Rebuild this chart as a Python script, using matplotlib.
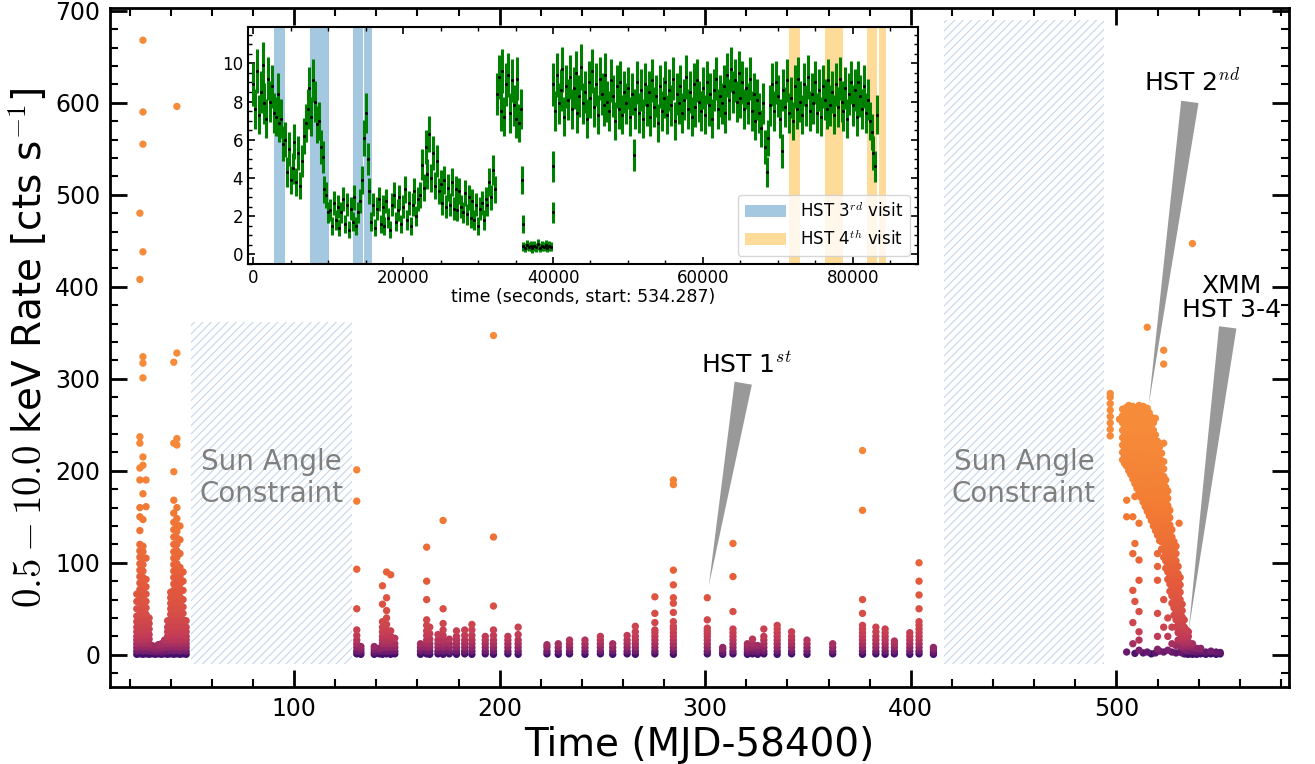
import matplotlib
matplotlib.use('Agg')
import matplotlib.pyplot as plt
from matplotlib.colors import LinearSegmentedColormap, LogNorm
from matplotlib.ticker import MultipleLocator
import numpy as np

plt.rcParams['mathtext.fontset'] = 'cm'
plt.rcParams['hatch.linewidth'] = 0.8

# Swift/XRT: cada instantanea = (MJD-58400, tasas en cts/s)
early_mjd = [23.5, 25.0, 26.5, 28.0, 29.5, 31.0, 32.5, 34.0, 35.5, 37.0,
             38.5, 40.0, 41.5, 43.0, 44.5, 46.0, 47.5]
early_rates = [
    [0.5, 4, 8, 12, 16, 20, 25, 30, 36, 42, 50, 58, 66],
    [1, 5, 9, 13, 17, 22, 27, 32, 38, 44, 50, 57, 64, 71, 78, 85, 92, 99, 106,
     113, 120, 135, 150, 160, 190, 203, 230, 237, 408, 480],
    [0.5, 4, 8, 12, 16, 21, 26, 31, 37, 43, 49, 56, 63, 70, 77, 84, 91, 98, 105,
     112, 118, 147, 175, 206, 215, 301, 317, 324, 438, 555, 590, 668],
    [1, 5, 9, 13, 17, 22, 27, 32, 38, 44, 51, 58, 66, 74, 82, 105, 161, 190],
    [0.5, 4, 8, 12, 17, 22, 28, 34, 40],
    [1, 4, 7, 10],
    [0.5, 3, 6, 9],
    [1, 4, 7, 11],
    [0.5, 3, 6, 9, 12],
    [1, 4, 8, 12, 16],
    [0.5, 4, 8, 12, 16, 20, 25, 30, 37],
    [1, 5, 9, 13, 17, 22, 27, 32, 38, 44, 50, 56, 62, 68],
    [0.5, 4, 8, 12, 16, 21, 26, 31, 37, 43, 49, 56, 63, 70, 77, 84, 91, 98, 105,
     112, 120, 128, 136, 144, 154, 168, 199, 230, 318],
    [1, 5, 9, 13, 17, 22, 27, 32, 38, 44, 50, 57, 64, 71, 78, 85, 92, 99, 106,
     113, 120, 127, 134, 141, 148, 160, 228, 235, 328, 596],
    [0.5, 4, 8, 12, 16, 21, 26, 31, 37, 43, 49, 56, 63, 70, 77, 85, 95, 110, 125, 140],
    [1, 5, 9, 13, 17, 22, 27, 32, 38, 45, 52, 60, 70, 80, 90],
    [0.5, 4, 8, 12, 16, 20, 25, 30, 37],
]

mid_mjd = [130.5, 132.5, 139.0, 141.5, 143.0, 145.0, 147.0, 149.0, 161.5, 164.5,
           166.0, 170.0, 172.5, 175.5, 179.0, 183.0, 186.5, 193.0, 197.0, 204.0,
           209.0, 223.0, 228.5, 234.0, 241.5, 249.0, 255.0, 262.0, 266.0, 275.5,
           284.5, 301.0, 308.5, 313.5, 320.5, 323.0, 325.5, 328.5, 335.0, 342.0,
           349.5, 362.0, 376.5, 383.0, 387.5, 392.0, 399.5, 404.0, 411.0]
mid_rates = [
    [1, 4, 8, 12, 16, 21, 27, 50, 93, 167, 201],
    [0.5, 3, 6, 9],
    [0.5, 3, 6, 9],
    [1, 4, 7],
    [0.5, 4, 8, 12, 16, 20, 25, 30, 36, 55, 75],
    [1, 4, 8, 12, 16, 21, 27, 33, 40, 48, 62, 90],
    [0.5, 4, 8, 12, 16, 20, 26, 87],
    [1, 4, 8, 12, 18],
    [0.5, 4, 8, 12],
    [1, 4, 8, 12, 16, 21, 26, 32, 38, 60, 80, 117],
    [0.5, 4, 8, 12, 17, 23, 30],
    [1, 4, 8, 12, 16, 22],
    [0.5, 4, 8, 12, 16, 21, 27, 34, 50, 146],
    [1, 4, 8, 12, 17],
    [0.5, 4, 8, 12, 16, 20, 26],
    [1, 4, 8, 12, 16, 21, 27],
    [0.5, 4, 8, 12, 16, 21, 27, 33],
    [1, 4, 8, 12, 16, 20],
    [0.5, 4, 8, 12, 16, 21, 27, 53, 128, 347],
    [1, 4, 8, 12, 16, 20],
    [0.5, 4, 8, 12, 16, 22, 30],
    [1, 4, 8, 11],
    [0.5, 4, 8, 12],
    [1, 4, 8, 12, 16],
    [0.5, 4, 8, 12, 16],
    [1, 4, 8, 12, 16, 20],
    [0.5, 4, 8, 12],
    [1, 4, 8, 12, 16, 21],
    [0.5, 4, 8, 12, 16, 20, 25, 31],
    [1, 4, 8, 12, 16, 20, 24, 27, 35, 45, 63],
    [0.5, 4, 8, 12, 16, 20, 24, 28, 31, 36, 46, 56, 62, 76, 92, 185, 190],
    [1, 4, 8, 12, 16, 20, 23, 26, 29, 38, 62],
    [0.5, 3, 6, 8],
    [1, 4, 8, 12, 16, 20, 24, 28, 47, 85, 121],
    [0.5, 3, 6, 9, 12],
    [1, 4, 8, 12, 17],
    [0.5, 3, 6, 10],
    [1, 4, 8, 12, 16, 20, 28],
    [0.5, 4, 8, 12, 16, 20, 24, 28, 32],
    [1, 4, 8, 12, 16, 20, 25],
    [0.5, 4, 8, 12, 16],
    [1, 4, 8, 12],
    [0.5, 4, 8, 12, 16, 20, 24, 28, 32, 45, 60, 157, 222],
    [1, 4, 8, 12, 16, 20, 25, 30],
    [0.5, 4, 8, 12, 16, 20, 24, 28],
    [1, 4, 8, 12, 15],
    [0.5, 4, 8, 12, 16, 20, 24],
    [1, 4, 8, 12, 16, 20, 24, 28, 32, 36, 50, 65, 80, 100],
    [0.5, 3, 6, 8],
]

late_mjd = [497.0, 501.5, 503.0, 504.0, 505.0, 506.0, 507.0, 508.0, 509.0, 510.0,
            511.0, 512.0, 513.0, 514.0, 515.0, 516.0, 517.0, 518.0, 519.0, 520.0,
            521.0, 522.0, 523.0, 524.0, 525.0, 526.0, 527.0, 528.0, 529.0, 530.0,
            530.5, 531.0, 532.0, 533.0, 534.0, 535.0, 537.0, 539.0, 541.0, 543.5,
            546.0, 548.5, 550.5]
late_rates = [
    [238, 245, 252, 259, 266, 273, 280, 284],
    [256],
    [212, 220, 228, 236, 244, 252, 260, 267],
    [208, 216, 224, 232, 240, 248, 256, 264],
    [205, 213, 221, 229, 237, 245, 253, 261, 269, 150, 168, 3],
    [200, 208, 216, 224, 232, 240, 248, 256, 264, 271],
    [196, 204, 212, 220, 228, 236, 244, 252, 260, 268],
    [191, 199, 207, 215, 223, 231, 239, 247, 255, 263, 270, 150, 110, 70, 35, 12],
    [186, 194, 202, 210, 218, 226, 234, 242, 250, 258, 266, 172, 121, 58, 1.5],
    [181, 189, 197, 205, 213, 221, 229, 237, 245, 253, 261, 268],
    [176, 184, 192, 200, 208, 216, 224, 232, 240, 248, 256, 264, 271, 143, 103,
     81, 47, 25, 16, 5],
    [171, 179, 187, 195, 203, 211, 219, 227, 235, 243, 251, 259, 267],
    [166, 174, 182, 190, 198, 206, 214, 222, 230, 238, 246, 254, 262, 270, 2],
    [161, 169, 177, 185, 193, 201, 209, 217, 225, 233, 241, 249, 257, 265],
    [156, 164, 172, 180, 188, 196, 204, 212, 220, 228, 236, 244, 252, 260, 268, 356, 3],
    [151, 159, 167, 175, 183, 191, 199, 207, 215, 223, 231, 239, 247, 255, 263],
    [146, 154, 162, 170, 178, 186, 194, 202, 210, 218, 226, 234, 242, 250, 258, 1],
    [140, 148, 156, 164, 172, 180, 188, 196, 204, 212, 220, 228, 236, 244, 252],
    [135, 143, 151, 159, 167, 175, 183, 191, 199, 207, 215, 223, 231, 239, 257, 2],
    [130, 138, 146, 154, 162, 170, 178, 186, 194, 202, 210, 218, 226, 232,
     132, 110, 96, 81, 45, 20, 6],
    [124, 132, 140, 148, 156, 164, 172, 180, 188, 196, 204, 212, 220, 226, 4],
    [115, 123, 131, 139, 147, 155, 163, 171, 179, 187, 195, 203, 211, 219],
    [106, 114, 122, 130, 138, 146, 154, 162, 170, 178, 186, 194, 202, 210, 230,
     316, 331, 60, 30, 3],
    [94, 102, 110, 118, 126, 134, 142, 150, 158, 166, 174, 182, 190],
    [82, 90, 98, 106, 114, 122, 130, 138, 146, 154, 162, 170, 178, 40, 20, 5],
    [69, 77, 85, 93, 101, 109, 117, 125, 133, 141, 149, 157],
    [56, 64, 72, 80, 88, 96, 104, 112, 120, 128, 136, 30, 12, 3],
    [43, 51, 59, 67, 75, 83, 91, 99, 107, 115, 123],
    [30, 38, 46, 54, 62, 70, 78, 86, 94, 102, 110, 118, 10, 2],
    [16, 24, 32, 40, 48, 56, 64, 72, 80, 88, 96],
    [143],
    [3, 10, 17, 24, 31, 38, 45, 52, 60, 68, 76, 84],
    [2, 8, 14, 20, 27, 34, 41, 48, 55],
    [1, 6, 12, 18, 24, 30, 38],
    [1, 5, 10, 15, 21, 27],
    [0.5, 4, 9, 14, 20, 25],
    [0.5, 4, 8, 12, 447],
    [0.5, 3, 7],
    [1, 4, 7],
    [0.5, 3],
    [1, 4],
    [0.5, 3],
    [1, 2.5],
]

# zonas sin observacion (restriccion de angulo solar)
sun_start = [50, 416]
sun_end = [128, 494]
sun_top = [362, 690]
sun_bottom = -10

# curva de luz XMM (inset), bines de 250 s
lc_bin = 250
lc_start = [0, 36000, 40000]
lc_rate_a = [8.9, 7.6, 9.6, 7.3, 8.5, 9.9, 7.9, 7.1, 9.2, 8.0, 8.8, 7.4,
             7.2, 8.4, 6.9,
             7.1, 5.8, 6.0, 4.3, 5.5, 3.9,
             4.5, 5.9, 3.8, 5.3, 3.6, 4.9, 6.2, 6.9,
             7.6, 8.7, 7.2, 9.1, 8.0, 6.8, 7.0,
             5.6, 5.1, 3.4, 3.1, 2.2,
             2.3, 1.5, 2.7, 1.8, 2.5, 1.4, 2.2, 2.9, 1.6, 2.6, 1.3, 2.4, 1.7, 3.0,
             1.5, 2.2, 2.8, 3.9, 6.1,
             7.4, 5.0, 3.3,
             1.7, 2.6, 1.4, 2.4, 2.9, 1.6, 2.5, 1.5, 2.8, 1.9, 1.3, 2.6, 3.1, 1.7,
             2.3, 3.0, 1.6, 2.5, 3.4, 1.8, 2.7, 1.5, 2.6, 3.3, 2.0, 2.9,
             3.1, 4.7, 3.5, 5.6, 4.2, 6.3, 4.0, 5.3, 3.6, 4.9, 3.3,
             3.7, 2.7, 3.9, 2.5, 3.5, 2.6, 3.8, 2.4, 3.4, 2.3, 3.3, 2.5, 2.2, 3.2,
             2.1, 3.0, 1.9, 2.8,
             1.8, 2.6, 1.5, 2.4, 2.7, 1.8, 2.9,
             2.6, 3.8, 3.0, 4.4, 3.4,
             8.4, 9.3, 7.5, 9.6, 7.2, 8.9, 9.4, 7.4, 9.1, 7.8, 7.1, 9.2, 6.9, 7.6]
lc_rate_b = [0.42, 0.35, 0.48, 0.39, 0.44, 0.31, 0.46, 0.38, 0.52, 0.36, 0.43,
             0.40, 0.49, 0.33, 0.45, 0.41]
lc_rate_c = [8.9, 7.5, 9.4, 7.9, 8.6, 9.7, 7.2, 8.8, 8.1, 9.3,
             7.6, 8.7, 9.5, 7.4, 8.3, 9.8, 7.9, 8.5, 7.1, 9.0,
             8.2, 9.6, 7.7, 8.9, 7.3, 9.2, 8.4, 7.8, 9.4, 8.0,
             7.5, 9.1, 8.3, 7.0, 8.8, 7.6, 9.0, 7.3, 8.5, 7.9,
             8.7, 7.2, 8.4, 5.2, 7.6, 9.0, 7.4, 8.6, 7.1, 8.9,
             7.8, 8.5, 7.2, 9.1, 7.7, 8.3, 6.9, 8.8, 7.5, 8.2,
             9.0, 7.3, 8.6, 7.8, 9.2, 7.0, 8.4, 7.9, 8.8, 7.4,
             8.1, 9.3, 7.6, 8.5, 7.2, 8.9, 7.7, 9.1, 8.0, 7.5,
             8.7, 7.3, 9.0, 7.8, 8.4, 7.1, 8.6, 9.2, 7.6, 8.3,
             7.9, 8.8, 7.4, 9.4, 8.1, 9.7, 8.5, 9.1, 8.0, 9.5,
             8.2, 9.0, 7.6, 8.7, 7.9, 9.2, 7.5, 8.4, 7.0, 8.1,
             7.4, 6.6, 7.9, 5.6, 4.3, 6.1, 7.8, 8.9, 7.5, 9.0,
             8.3, 7.1, 5.4, 8.6, 7.7, 9.1, 7.4, 8.2, 7.0, 8.8,
             7.6, 9.2, 8.0, 7.3, 8.9, 7.8, 9.3, 7.5, 8.4, 7.9,
             9.0, 7.4, 8.6, 7.2, 8.8, 8.1, 7.6, 9.1, 7.8, 8.5,
             7.3, 8.9, 7.7, 9.2, 8.0, 7.5, 8.7, 7.1, 8.4, 9.0,
             7.8, 8.6, 7.2, 9.0, 8.3, 7.6, 8.8, 7.4, 8.1, 7.0,
             6.4, 5.3, 4.6, 7.3]
lc_odd_t = [35900, 35950, 40000, 40050]
lc_odd_rate = [3.9, 1.6, 4.6, 2.2]
poisson_bin = 7  # s, para las barras de error

hst3_start = [2780, 7510, 13270, 14780]
hst3_end = [4200, 10050, 14690, 15800]
hst4_start = [71460, 76270, 81960, 83470]
hst4_end = [72930, 78710, 83290, 84490]


def expandir(mjds, rates):
    'Convierte (mjd, lista de tasas) en dos vectores planos'
    t, r = [], []
    for m, lista in zip(mjds, rates):
        t += [m] * len(lista)
        r += lista
    return np.array(t), np.array(r)


t1, r1 = expandir(early_mjd, early_rates)
t2, r2 = expandir(mid_mjd, mid_rates)
t3, r3 = expandir(late_mjd, late_rates)
mjd = np.concatenate([t1, t2, t3])
rate = np.concatenate([r1, r2, r3])
orden = np.argsort(rate)
mjd, rate = mjd[orden], rate[orden]

colores = ['#40106a', '#7b1f6e', '#c13a57', '#e55b3b', '#f27b33', '#f68b3a']
cmap = LinearSegmentedColormap.from_list('xrt', list(zip([0, 0.3, 0.55, 0.8, 0.92, 1.0], colores)))

fig = plt.figure(figsize=(13.15, 7.64), dpi=100)
ax = fig.add_axes([0.0837, 0.1008, 0.8966, 0.8887])

for x0, x1, top in zip(sun_start, sun_end, sun_top):
    ax.fill_between([x0, x1], sun_bottom, top, facecolor='none', edgecolor='#c5d5ea',
                    hatch='////', linewidth=0, zorder=1)
    ax.text((x0 + x1) / 2, 192, 'Sun Angle\nConstraint', ha='center', va='center',
            fontsize=20, color='#7f7f7f', zorder=2)

ax.scatter(mjd, rate, c=rate, cmap=cmap, norm=LogNorm(vmin=1, vmax=250, clip=True),
           s=28, edgecolors='none', zorder=3)

flecha = dict(arrowstyle='wedge,tail_width=0.7', fc='0.6', ec='none')
ax.annotate('HST 1$^{st}$', xy=(301.5, 72), xytext=(320, 315), ha='center', va='center',
            fontsize=18, arrowprops=flecha, zorder=2.5)
ax.annotate('HST 2$^{nd}$', xy=(515.5, 268), xytext=(537, 622), ha='center', va='center',
            fontsize=18, arrowprops=flecha, zorder=2.5)
ax.annotate('XMM\nHST 3-4', xy=(535, 24), xytext=(556, 388), ha='center', va='center',
            fontsize=18, arrowprops=flecha, zorder=2.5, multialignment='center',
            linespacing=1.0)

ax.set_xlim(10.5, 584)
ax.set_ylim(-35, 703)
ax.xaxis.set_major_locator(MultipleLocator(100))
ax.xaxis.set_minor_locator(MultipleLocator(20))
ax.yaxis.set_major_locator(MultipleLocator(100))
ax.yaxis.set_minor_locator(MultipleLocator(20))
ax.tick_params(which='both', direction='in', top=True, right=True)
ax.tick_params(which='major', length=12, width=2, labelsize=17, pad=7)
ax.tick_params(which='minor', length=6, width=1.5)
for s in ax.spines.values():
    s.set_linewidth(2)
ax.set_xlabel('Time (MJD-58400)', fontsize=28)
ax.set_ylabel('$0.5-10.0$ keV Rate [cts s$^{-1}$]', fontsize=28)

# ---- inset con la curva de luz de XMM ----
axins = fig.add_axes([0.1886, 0.6545, 0.5095, 0.3102])
lc_t = np.concatenate([lc_start[0] + lc_bin * np.arange(len(lc_rate_a)),
                       lc_start[1] + lc_bin * np.arange(len(lc_rate_b)),
                       lc_start[2] + lc_bin * np.arange(len(lc_rate_c)),
                       lc_odd_t])
lc_r = np.concatenate([lc_rate_a, lc_rate_b, lc_rate_c, lc_odd_rate])
lc_err = np.sqrt(lc_r / poisson_bin)

for i, (a, b) in enumerate(zip(hst3_start, hst3_end)):
    axins.axvspan(a, b, color='C0', alpha=0.4, lw=0,
                  label='HST 3$^{rd}$ visit' if i == 0 else None)
for i, (a, b) in enumerate(zip(hst4_start, hst4_end)):
    axins.axvspan(a, b, color='orange', alpha=0.4, lw=0,
                  label='HST 4$^{th}$ visit' if i == 0 else None)

axins.errorbar(lc_t, lc_r, yerr=lc_err, fmt='.', color='k', ms=2.5,
               ecolor='green', elinewidth=2.2, capsize=0, zorder=3)
axins.set_xlim(-700, 88700)
axins.set_ylim(-0.5, 11.9)
axins.xaxis.set_major_locator(MultipleLocator(20000))
axins.xaxis.set_minor_locator(MultipleLocator(5000))
axins.yaxis.set_major_locator(MultipleLocator(2))
axins.yaxis.set_minor_locator(MultipleLocator(0.5))
axins.tick_params(which='both', direction='in', top=True, right=True, labelsize=12)
axins.tick_params(which='major', length=5, width=1.2)
axins.tick_params(which='minor', length=3, width=1)
for s in axins.spines.values():
    s.set_linewidth(1.5)
axins.set_xlabel('time (seconds, start: 534.287)', fontsize=12.5, labelpad=1)
axins.legend(loc='lower right', fontsize=12, handlelength=2.5)

plt.savefig('out.png', dpi=100)
